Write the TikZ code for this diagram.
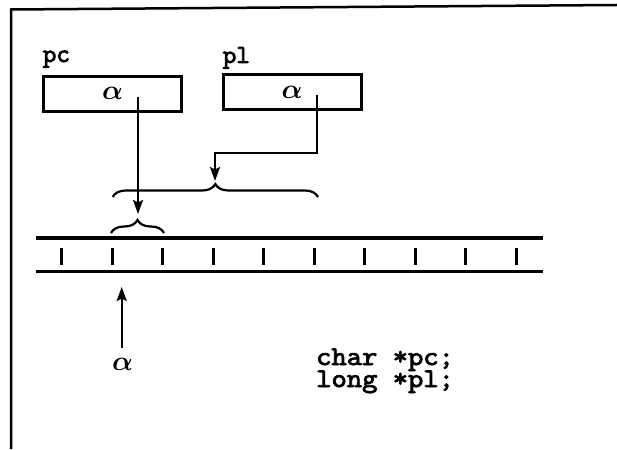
\documentclass[tikz,border=0pt]{standalone}
\usepackage{fontspec}
\usetikzlibrary{arrows.meta,decorations.pathreplacing}
\newfontfamily\labelfont{lmmono10-regular.otf}[FakeBold=2.8]
\newfontfamily\codefont{lmmono10-regular.otf}[FakeStretch=1.08, FakeBold=2.8]
\newcommand{\bigalpha}{\scalebox{2.75}{\boldmath$\alpha$}}
\tikzset{
  membox/.style={draw, line width=3pt, minimum width=138pt, minimum height=35pt, inner sep=0pt},
  varlabel/.style={inner sep=0pt, anchor=base west, font=\labelfont\fontsize{26}{26}\selectfont},
  codetext/.style={inner sep=0pt, anchor=base west, font=\codefont\fontsize{27}{22}\selectfont},
  greek/.style={inner sep=0pt},
  ptr/.style={line width=2.3pt, -{Stealth[length=14pt,width=10pt,inset=2.5pt]}},
  rail/.style={line width=3.3pt},
  tick/.style={line width=3pt},
  bracedec/.style={decorate, decoration={brace, amplitude=13pt}, line width=2.2pt},
  frameline/.style={line width=2.5pt}
}
\begin{document}
\begin{tikzpicture}[x=1pt,y=-1pt]
\useasboundingbox (0,0) rectangle (617,449);
% frame (partially visible)
\coordinate (fTL) at (11,9.5);
\coordinate (fTR) at (617,5);
\coordinate (fBL) at (11,449);
\draw[frameline] (fBL) -- (fTL) -- (fTR);
% labels
\node[varlabel] (pclabel) at (42.5,62) {pc};
\node[varlabel] (pllabel) at (222.5,63) {pl};
% boxes
\node[membox] (pcbox) at (112.5,93.8) {\bigalpha};
\node[membox] (plbox) at (292.2,92) {\bigalpha};
% rails
\coordinate (r1a) at (36,238);
\coordinate (r1b) at (543,238);
\coordinate (r2a) at (36,271.5);
\coordinate (r2b) at (543,271.5);
\draw[rail] (r1a) -- (r1b);
\draw[rail] (r2a) -- (r2b);
% ticks
\foreach \i in {0,...,9} {
  \coordinate (t\i a) at ({61.7+50.5*\i},248);
  \coordinate (t\i b) at ({61.7+50.5*\i},265);
  \draw[tick] (t\i a) -- (t\i b);
}
% braces
\coordinate (bbL) at (112.7,197);
\coordinate (bbR) at (318,197);
\draw[bracedec] (bbL) -- (bbR);
\coordinate (sbL) at (111,233);
\coordinate (sbR) at (164,233);
\draw[bracedec] (sbL) -- (sbR);
% pc pointer
\coordinate (pcs) at (138,97);
\coordinate (pce) at (138,214);
\draw[ptr] (pcs) -- (pce);
% pl pointer
\coordinate (pls) at (317,95);
\coordinate (plm1) at (317,153);
\coordinate (plm2) at (215,153);
\coordinate (ple) at (215,181);
\draw[ptr] (pls) -- (plm1) -- (plm2) -- (ple);
% alpha address arrow
\node[greek] (alphaaddr) at (122.5,364) {\bigalpha};
\coordinate (ua) at (121.7,348);
\coordinate (ub) at (121.7,287);
\draw[ptr] (ua) -- (ub);
% code text
\node[codetext] (code1) at (316,365) {char *pc;};
\node[codetext] (code2) at (316,387) {long *pl;};
\end{tikzpicture}
\end{document}
